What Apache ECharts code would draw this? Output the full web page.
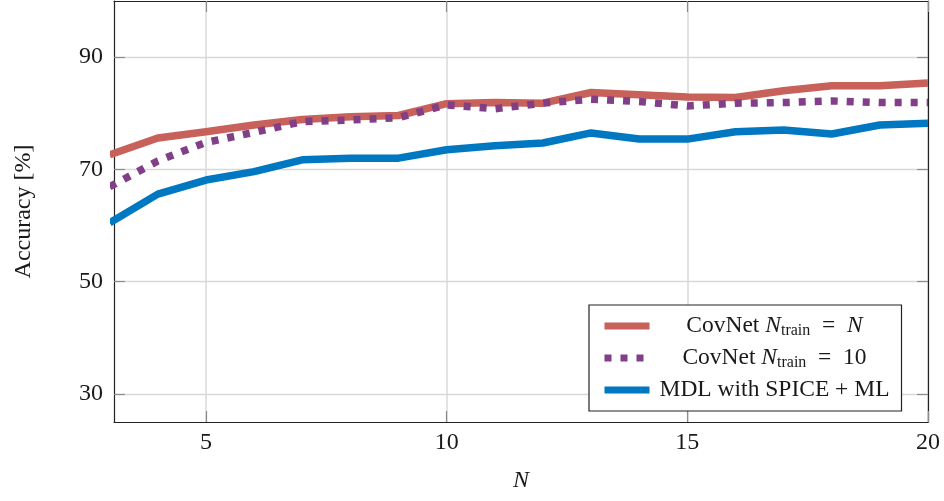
<!DOCTYPE html>
<html>
<head>
<meta charset="utf-8">
<script src="https://cdn.jsdelivr.net/npm/echarts@6/dist/echarts.min.js"></script>
<style>
  html, body { margin: 0; padding: 0; background: #fff; }
  #chart { width: 944px; height: 501px; }
</style>
</head>
<body>
<div id="chart"></div>
<script>
// Number of samples N on the x axis
const nValues = [3, 4, 5, 6, 7, 8, 9, 10, 11, 12, 13, 14, 15, 16, 17, 18, 19, 20];
// Accuracy [%] per method
const covnetTrainN  = [72.6, 75.6, 76.7, 77.9, 78.9, 79.4, 79.6, 81.7, 81.9, 81.8, 83.7, 83.3, 82.9, 82.8, 84.0, 84.9, 84.9, 85.4];
const covnetTrain10 = [66.9, 71.5, 74.8, 76.6, 78.5, 78.8, 79.2, 81.5, 80.8, 81.8, 82.5, 82.1, 81.3, 81.8, 81.9, 82.2, 81.9, 81.9];
const mdlSpiceMl    = [60.5, 65.6, 68.1, 69.6, 71.7, 72.0, 72.0, 73.5, 74.2, 74.7, 76.5, 75.4, 75.4, 76.7, 77.0, 76.3, 77.9, 78.2];
// Tick positions
const xTicks = [5, 10, 15, 20];
const yTicks = [30, 50, 70, 90];

const FONT = '"Liberation Serif", "DejaVu Serif", serif';
const TEXT = '#1a1a1a';

const pair = (xs, ys) => xs.map((x, i) => [x, ys[i]]);

const frameAxis = {
  axisLine: { show: true, onZero: false, lineStyle: { color: '#222', width: 1.2 } },
  axisTick: { show: true, inside: true, length: 11, lineStyle: { color: '#8c8c8c', width: 1.2 } },
};

const chart = echarts.init(document.getElementById('chart'), null, { renderer: 'canvas' });

const legendRich = {
  t: { fontFamily: FONT, fontSize: 23.5, color: TEXT, align: 'center', lineHeight: 26 },
  i: { fontFamily: FONT, fontSize: 23.5, color: TEXT, align: 'center', fontStyle: 'italic', lineHeight: 26 },
  s: { fontFamily: FONT, fontSize: 16, color: TEXT, align: 'center', lineHeight: 18, verticalAlign: 'bottom' }
};

const legendLabels = {
  'CovNet Ntrain = N': '{t|CovNet }{i|N}{s|train}{t|\u2002=\u2002}{i|N}',
  'CovNet Ntrain = 10': '{t|CovNet }{i|N}{s|train}{t|\u2002=\u200210}',
  'MDL with SPICE + ML': '{t|MDL with SPICE + ML}'
};

chart.setOption({
  animation: false,
  backgroundColor: '#fff',
  textStyle: { fontFamily: FONT, color: TEXT },
  grid: { left: 114, right: 16, top: 1, bottom: 79, containLabel: false },
  xAxis: [
    Object.assign({
      type: 'value', position: 'bottom', min: 3.09, max: 20,
      name: 'N', nameLocation: 'middle', nameGap: 47,
      nameTextStyle: { fontFamily: FONT, fontSize: 24, fontStyle: 'italic', color: TEXT },
      axisLabel: { customValues: xTicks, margin: 9, fontFamily: FONT, fontSize: 24, color: TEXT },
      splitLine: { show: true, lineStyle: { color: '#d8d8d8', width: 1.5 } }
    }, frameAxis, { axisTick: Object.assign({}, frameAxis.axisTick, { customValues: xTicks }) }),
    Object.assign({
      type: 'value', position: 'top', min: 3.09, max: 20,
      axisLabel: { show: false }, splitLine: { show: false }
    }, frameAxis, { axisTick: Object.assign({}, frameAxis.axisTick, { customValues: xTicks }) })
  ],
  yAxis: [
    Object.assign({
      type: 'value', position: 'left', min: 25, max: 100,
      name: 'Accuracy [%]', nameLocation: 'middle', nameGap: 78,
      nameTextStyle: { fontFamily: FONT, fontSize: 24, color: TEXT },
      axisLabel: { customValues: yTicks, margin: 11, fontFamily: FONT, fontSize: 24, color: TEXT },
      splitLine: { show: true, lineStyle: { color: '#d8d8d8', width: 1.3 } }
    }, frameAxis, { axisTick: Object.assign({}, frameAxis.axisTick, { customValues: yTicks }) }),
    Object.assign({
      type: 'value', position: 'right', min: 25, max: 100,
      axisLabel: { show: false }, splitLine: { show: false }
    }, frameAxis, { axisTick: Object.assign({}, frameAxis.axisTick, { customValues: yTicks }) })
  ],
  legend: {
    orient: 'vertical',
    left: 589, top: 305,
    padding: [9, 12, 9, 12],
    itemGap: 7,
    itemWidth: 45, itemHeight: 7,
    itemTextGap: 5,
    backgroundColor: '#fff',
    borderColor: '#222', borderWidth: 1.2, borderRadius: 0,
    itemStyle: { color: 'rgba(0,0,0,0)', borderWidth: 0 },
    lineStyle: { width: 7, cap: 'butt' },
    textStyle: { width: 240, fontFamily: FONT, fontSize: 23.5, color: TEXT, rich: legendRich },
    formatter: name => legendLabels[name],
    selectedMode: false,
    data: ['CovNet Ntrain = N', 'CovNet Ntrain = 10', 'MDL with SPICE + ML']
  },
  series: [
    {
      name: 'CovNet Ntrain = N', type: 'line', data: pair(nValues, covnetTrainN),
      showSymbol: false, symbol: 'none', clip: true,
      lineStyle: { color: '#c8615a', width: 7.5, cap: 'butt', join: 'round' },
      itemStyle: { color: '#c8615a' }, z: 2
    },
    {
      name: 'CovNet Ntrain = 10', type: 'line', data: pair(nValues, covnetTrain10),
      showSymbol: false, symbol: 'none', clip: true,
      lineStyle: { color: '#813f88', width: 7.5, type: [7, 9], cap: 'butt' },
      itemStyle: { color: '#813f88' }, z: 3
    },
    {
      name: 'MDL with SPICE + ML', type: 'line', data: pair(nValues, mdlSpiceMl),
      showSymbol: false, symbol: 'none', clip: true,
      lineStyle: { color: '#0077c1', width: 7.5, cap: 'butt', join: 'round' },
      itemStyle: { color: '#0077c1' }, z: 4
    }
  ]
});
</script>
</body>
</html>
